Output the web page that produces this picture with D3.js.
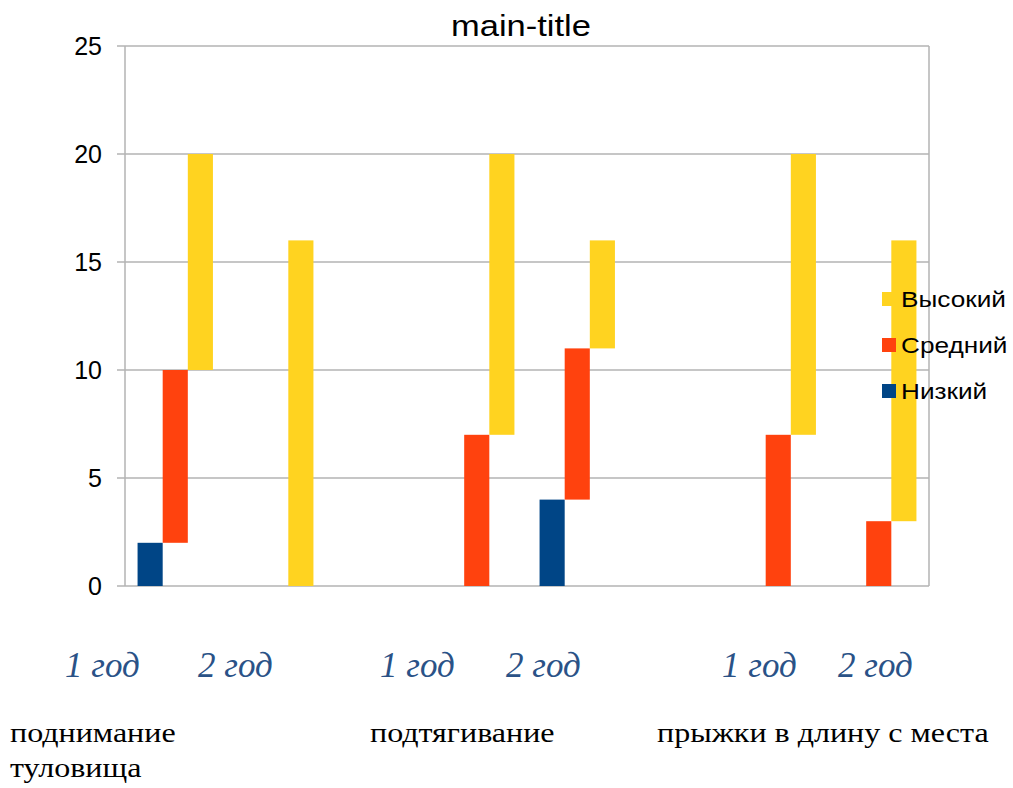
<!DOCTYPE html>
<html>
<head>
<meta charset="utf-8">
<script src="https://cdn.jsdelivr.net/npm/d3@7"></script>
<style>
  body { margin: 0; background: #fff; }
  svg { display: block; }
</style>
</head>
<body>
<svg id="chart" width="1013" height="788"></svg>
<script>
// slots: two years per exercise, empty slot between exercises
var slots = ["s0", "s1", "gap1", "s3", "s4", "gap2", "s6", "s7"];
var seriesNames = ["Низкий", "Средний", "Высокий"];
var low = [2, 0, 0, 0, 4, 0, 0, 0];
var mid = [8, 0, 0, 7, 7, 0, 7, 3];
var high = [10, 16, 0, 13, 5, 0, 13, 13];
var yearLabels = ["1 год", "2 год", "1 год", "2 год", "1 год", "2 год"];
var groupLabels = [["поднимание", "туловища"], ["подтягивание"], ["прыжки в длину с места"]];
var yTicks = [0, 5, 10, 15, 20, 25];
var colors = ["#004586", "#ff420e", "#ffd320"];

var svg = d3.select("#chart");
var plotLeft = 125, plotRight = 929, plotTop = 46, plotBottom = 586;
var sansFont = "Liberation Sans, Arial, sans-serif";
var serifFont = "Liberation Serif, Times New Roman, serif";

var rows = slots.map(function (s, i) {
    return { slot: s, "Низкий": low[i], "Средний": mid[i], "Высокий": high[i] };
});
var stacked = d3.stack().keys(seriesNames)(rows);

var x = d3.scaleBand().domain(slots).range([plotLeft, plotRight]).paddingInner(0.25).paddingOuter(0.125);
var xs = d3.scaleBand().domain(seriesNames).range([0, x.bandwidth()]);
var y = d3.scaleLinear().domain([0, 25]).range([plotBottom, plotTop]);

// gridlines + ticks
svg.append("g")
    .selectAll("line")
    .data(yTicks)
    .enter()
    .append("line")
    .attr("x1", plotLeft - 8)
    .attr("x2", plotRight)
    .attr("y1", function (d) { return y(d) })
    .attr("y2", function (d) { return y(d) })
    .attr("stroke", "#b3b3b3")
    .attr("stroke-width", 1.5);

svg.append("line")
    .attr("x1", plotLeft).attr("x2", plotLeft)
    .attr("y1", plotTop).attr("y2", plotBottom)
    .attr("stroke", "#b3b3b3").attr("stroke-width", 1.5);
svg.append("line")
    .attr("x1", plotRight).attr("x2", plotRight)
    .attr("y1", plotTop).attr("y2", plotBottom)
    .attr("stroke", "#b3b3b3").attr("stroke-width", 1.5);

svg.append("g")
    .selectAll("text")
    .data(yTicks)
    .enter()
    .append("text")
    .attr("x", 102)
    .attr("y", function (d) { return y(d) + 9 })
    .attr("text-anchor", "end")
    .attr("font-family", sansFont)
    .attr("font-size", 25)
    .attr("fill", "#000")
    .text(function (d) { return d });

// bars
stacked.forEach(function (layer, si) {
    svg.append("g")
        .attr("fill", colors[si])
        .selectAll("rect")
        .data(layer.filter(function (d) { return d[1] > d[0] }))
        .enter()
        .append("rect")
        .attr("x", function (d) { return x(d.data.slot) + xs(layer.key) })
        .attr("width", xs.bandwidth())
        .attr("y", function (d) { return y(d[1]) })
        .attr("height", function (d) { return y(d[0]) - y(d[1]) });
});

// title
svg.append("text")
    .attr("transform", "translate(521,36) scale(1.15,1)")
    .attr("text-anchor", "middle")
    .attr("font-family", sansFont)
    .attr("font-size", 30)
    .text("main-title");

// legend
var legendOrder = ["Высокий", "Средний", "Низкий"];
var legend = svg.append("g")
    .selectAll("g")
    .data(legendOrder)
    .enter()
    .append("g")
    .attr("transform", function (d, i) { return "translate(882," + (292 + i * 46) + ")" });
legend.append("rect")
    .attr("width", 14).attr("height", 14)
    .attr("fill", function (d) { return colors[seriesNames.indexOf(d)] });
legend.append("text")
    .attr("transform", "translate(19,15) scale(1.19,1)")
    .attr("font-family", sansFont)
    .attr("font-size", 22)
    .text(function (d) { return d });

// year labels under slots
var yearX = [65, 198, 380, 506, 722, 838];
svg.append("g")
    .selectAll("text")
    .data(yearLabels)
    .enter()
    .append("text")
    .attr("x", function (d, i) { return yearX[i] })
    .attr("y", 677)
    .attr("font-family", serifFont)
    .attr("font-style", "italic")
    .attr("font-size", 35)
    .attr("fill", "#2a5287")
    .text(function (d) { return d });

// exercise labels
var groupX = [10, 370, 657];
svg.append("g")
    .selectAll("g")
    .data(groupLabels)
    .enter()
    .append("g")
    .attr("transform", function (d, i) { return "translate(" + groupX[i] + ",742) scale(1.145,1)" })
    .selectAll("text")
    .data(function (d) { return d })
    .enter()
    .append("text")
    .attr("y", function (d, i) { return i * 35 })
    .attr("font-family", serifFont)
    .attr("font-size", 28)
    .attr("fill", "#000")
    .text(function (d) { return d });
</script>
</body>
</html>
